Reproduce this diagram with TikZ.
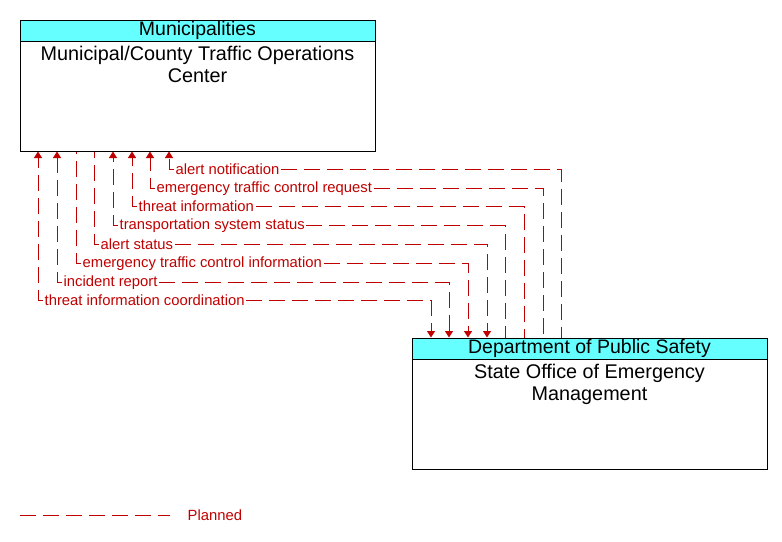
\documentclass[tikz,border=0pt]{standalone}
\usepackage{fontspec}
\setmainfont{Liberation Sans}
\usetikzlibrary{arrows.meta}
\definecolor{flowred}{RGB}{192,0,0}
\definecolor{headcyan}{RGB}{102,255,255}
\tikzset{
    box/.style={draw, line width=1pt, minimum width=355pt, minimum height=131pt, inner sep=0pt},
    head/.style={draw, fill=headcyan, line width=1pt, minimum width=355pt, minimum height=21pt, inner sep=0pt, font=\fontsize{19.5}{21}\selectfont},
    body/.style={anchor=north, align=center, inner sep=0pt, font=\fontsize{19.8}{22}\selectfont},
    flow/.style={flowred, line width=1pt, dash pattern=on 16pt off 7pt},
    lbl/.style={anchor=west, text=flowred, inner sep=1.5pt, font=\fontsize{14.8}{16}\selectfont},
    >={Triangle[width=8pt,length=6.5pt]}
}
\begin{document}
\begin{tikzpicture}[x=1pt,y=1pt]
                \useasboundingbox (0,0) rectangle (782,-541);

                \node[box] (muni) at (197.5,-85.5) {};
                \node[head, anchor=north] (munihead) at (muni.north) {Municipalities};
                \node[body] (munibody) at (197.5,-46) {Municipal/County Traffic Operations\\Center};

                \node[box] (sooem) at (589.5,-403.5) {};
                \node[head, anchor=north] (sooemhead) at (sooem.north) {Department of Public Safety};
                \node[body] (sooembody) at (589.5,-364) {State Office of Emergency\\Management};

                \node[lbl] (f1) at (174,-169.5) {alert notification};
                \node[lbl] (f2) at (155,-188.5) {emergency traffic control request};
                \node[lbl] (f3) at (137,-206.5) {threat information};
                \node[lbl] (f4) at (118,-225.5) {transportation system status};
                \node[lbl] (f5) at (99,-244.5) {alert status};
                \node[lbl] (f6) at (81,-263.5) {emergency traffic control information};
                \node[lbl] (f7) at (62,-282.5) {incident report};
                \node[lbl] (f8) at (43,-300.5) {threat information coordination};

                \draw[flow] (f1.east) -| (sooem.north -| 561,0);
                \draw[flow,->] (f1.west) -| (muni.south -| 169,0);
                \draw[flow] (f2.east) -| (sooem.north -| 543,0);
                \draw[flow,->] (f2.west) -| (muni.south -| 150,0);
                \draw[flow] (f3.east) -| (sooem.north -| 524,0);
                \draw[flow,->] (f3.west) -| (muni.south -| 132,0);
                \draw[flow] (f4.east) -| (sooem.north -| 505,0);
                \draw[flow,->] (f4.west) -| (muni.south -| 113,0);

                \draw[flow,->] (f5.east) -| (sooem.north -| 487,0);
                \draw[flow] (f5.west) -| (muni.south -| 94,0);
                \draw[flow,->] (f6.east) -| (sooem.north -| 468,0);
                \draw[flow] (f6.west) -| (muni.south -| 76,0);

                \draw[flow,->] (f7.east) -| (sooem.north -| 449,0);
                \draw[flow,->] (f7.west) -| (muni.south -| 57,0);
                \draw[flow,->] (f8.east) -| (sooem.north -| 431,0);
                \draw[flow,->] (f8.west) -| (muni.south -| 38,0);

                \coordinate (lgstart) at (20,-515);
                \coordinate (lgend) at (170,-515);
                \draw[flow] (lgstart) -- (lgend);
                \node[lbl] (planned) at (186,-515) {Planned};
            \end{tikzpicture}
\end{document}
